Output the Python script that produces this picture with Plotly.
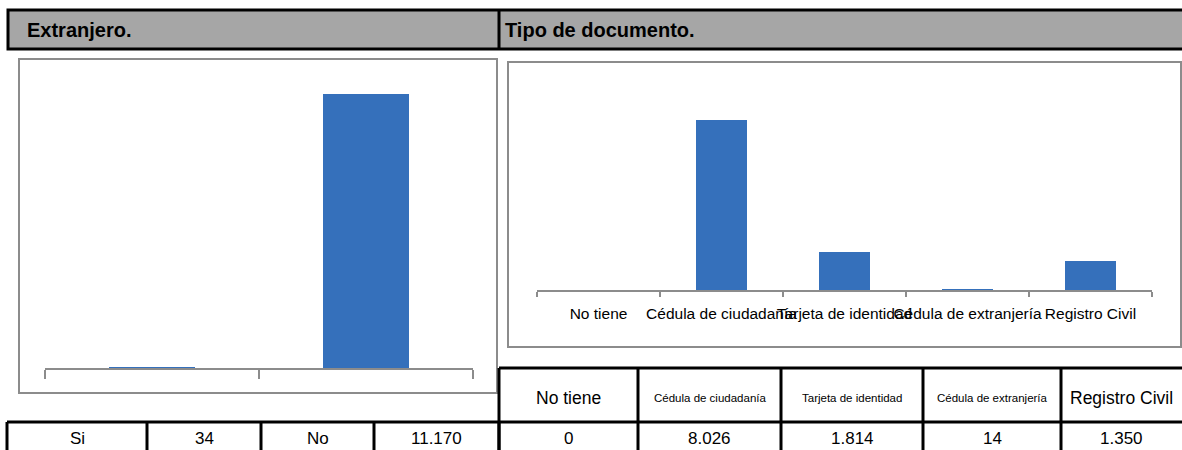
import plotly.graph_objects as go

# ---------------- data ----------------
extranjero_cats = ["Si", "No"]
extranjero_vals = [34, 11170]

doc_cats = ["No tiene", "Cédula de ciudadanía", "Tarjeta de identidad",
            "Cédula de extranjería", "Registro Civil"]
doc_vals = [0, 8026, 1814, 14, 1350]

title_left = "Extranjero."
title_right = "Tipo de documento."

# ---------------- helpers ----------------
W, H = 1182, 450
def px(x):
    return x / W
def py(y):
    return 1 - y / H

def fmt(v):
    return f"{v:,}".replace(",", ".")

SANS = "Liberation Sans, Arial, sans-serif"
BAR = "#3570bb"
GRAY = "#8c8c8c"

fig = go.Figure()

fig.add_trace(go.Bar(x=extranjero_cats, y=extranjero_vals, width=0.4,
                     marker=dict(color=BAR, line=dict(width=0)),
                     xaxis="x", yaxis="y", showlegend=False, hoverinfo="x+y"))
fig.add_trace(go.Bar(x=doc_cats, y=doc_vals, width=0.41,
                     marker=dict(color=BAR, line=dict(width=0)),
                     xaxis="x2", yaxis="y2", showlegend=False, hoverinfo="x+y"))

shapes = []
annotations = []

# chart frames
shapes.append(dict(type="rect", xref="paper", yref="paper",
                   x0=px(19), x1=px(497), y0=py(393), y1=py(59),
                   line=dict(color=GRAY, width=2), fillcolor="rgba(0,0,0,0)", layer="below"))
shapes.append(dict(type="rect", xref="paper", yref="paper",
                   x0=px(508), x1=px(1181), y0=py(347), y1=py(62),
                   line=dict(color=GRAY, width=2), fillcolor="rgba(0,0,0,0)", layer="below"))

# header band
shapes.append(dict(type="rect", xref="paper", yref="paper",
                   x0=px(8), x1=px(1185), y0=py(49), y1=py(10),
                   line=dict(color="black", width=3), fillcolor="#a6a6a6", layer="below"))
shapes.append(dict(type="line", xref="paper", yref="paper",
                   x0=px(499), x1=px(499), y0=py(49), y1=py(10),
                   line=dict(color="black", width=3)))
annotations.append(dict(text="<b>" + title_left + "</b>", xref="paper", yref="paper",
                        x=px(25), y=py(30), xanchor="left", yanchor="middle",
                        showarrow=False, font=dict(family=SANS, size=20, color="black")))
annotations.append(dict(text="<b>" + title_right + "</b>", xref="paper", yref="paper",
                        x=px(503), y=py(30), xanchor="left", yanchor="middle",
                        showarrow=False, font=dict(family=SANS, size=20, color="black")))

# ---------------- table ----------------
TL = dict(color="black", width=3)
# left value row
left_bounds = [7, 147, 261, 374, 499]
shapes.append(dict(type="line", xref="paper", yref="paper",
                   x0=px(7), x1=px(499), y0=py(422), y1=py(422), line=TL))
for xb in left_bounds:
    shapes.append(dict(type="line", xref="paper", yref="paper",
                       x0=px(xb), x1=px(xb), y0=py(422), y1=py(460), line=TL))
left_cells = [extranjero_cats[0], fmt(extranjero_vals[0]),
              extranjero_cats[1], fmt(extranjero_vals[1])]
for i, t in enumerate(left_cells):
    cx = (left_bounds[i] + left_bounds[i + 1]) / 2
    annotations.append(dict(text=t, xref="paper", yref="paper", x=px(cx), y=py(438),
                            xanchor="center", yanchor="middle", showarrow=False,
                            font=dict(family=SANS, size=17, color="black")))

# right header + value rows
right_bounds = [499, 638, 781, 923, 1061, 1200]
head_sizes = [17.5, 11.5, 11.5, 11.5, 17.5]
shapes.append(dict(type="line", xref="paper", yref="paper",
                   x0=px(499), x1=px(1185), y0=py(368), y1=py(368), line=TL))
shapes.append(dict(type="line", xref="paper", yref="paper",
                   x0=px(499), x1=px(1185), y0=py(422), y1=py(422), line=TL))
for xb in right_bounds[:-1]:
    shapes.append(dict(type="line", xref="paper", yref="paper",
                       x0=px(xb), x1=px(xb), y0=py(368), y1=py(460), line=TL))
for i, (c, v) in enumerate(zip(doc_cats, doc_vals)):
    cx = (right_bounds[i] + min(right_bounds[i + 1], 1182)) / 2
    annotations.append(dict(text=c, xref="paper", yref="paper", x=px(cx), y=py(398),
                            xanchor="center", yanchor="middle", showarrow=False,
                            font=dict(family=SANS, size=head_sizes[i], color="black")))
    annotations.append(dict(text=fmt(v), xref="paper", yref="paper", x=px(cx), y=py(438),
                            xanchor="center", yanchor="middle", showarrow=False,
                            font=dict(family=SANS, size=17, color="black")))

fig.update_layout(
    width=W, height=H,
    margin=dict(l=0, r=0, t=0, b=0),
    paper_bgcolor="white", plot_bgcolor="rgba(0,0,0,0)",
    shapes=shapes, annotations=annotations,
    bargap=0,
    xaxis=dict(domain=[px(45), px(473)], anchor="y", range=[-0.5, 1.5],
               showline=True, linecolor=GRAY, linewidth=2,
               ticks="outside", tickson="boundaries", ticklen=9, tickwidth=2, tickcolor=GRAY,
               showticklabels=False, showgrid=False, zeroline=False, fixedrange=True),
    yaxis=dict(domain=[py(368), py(74)], anchor="x", range=[0, 12000], visible=False,
               fixedrange=True),
    xaxis2=dict(domain=[px(537), px(1152)], anchor="y2", range=[-0.5, 4.5],
                showline=True, linecolor=GRAY, linewidth=2,
                ticks="outside", tickson="boundaries", ticklen=5, tickwidth=2, tickcolor=GRAY,
                showticklabels=True, tickfont=dict(family=SANS, size=15.5, color="black"),
                ticklabelstandoff=8,
                showgrid=False, zeroline=False, fixedrange=True, tickangle=0),
    yaxis2=dict(domain=[py(290), py(78)], anchor="x2", range=[0, 10000], visible=False,
                fixedrange=True),
)

fig.write_html("out.html", config={"displayModeBar": False},
               post_script="document.body.style.margin='0';document.body.style.overflow='hidden';")
